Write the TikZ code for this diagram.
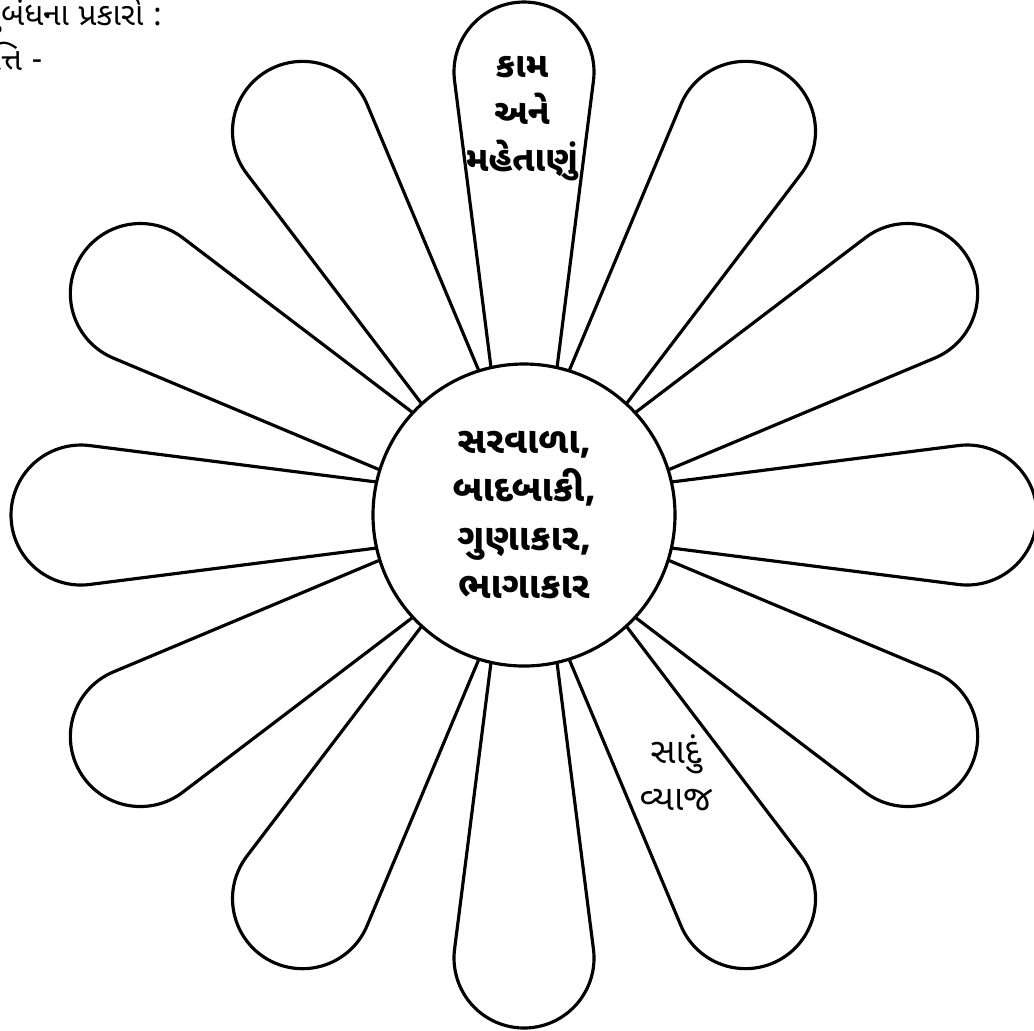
\documentclass[tikz,border=0pt]{standalone}
\usepackage{fontspec}
\newfontfamily\guj[Script=Gujarati]{Noto Sans Gujarati UI}
\usetikzlibrary{positioning}
\tikzset{
  petal/.style={draw, line width=0.9pt, line join=round},
  hub/.style={circle, draw, fill=white, line width=0.9pt, minimum size=30.2mm,
    inner sep=0pt, align=center, font=\guj\bfseries\fontsize{10.5}{13.7}\selectfont},
  lab/.style={align=center, font=\guj\bfseries\fontsize{10}{13.4}\selectfont},
  head/.style={anchor=east, inner sep=0pt, font=\guj\fontsize{9}{12}\selectfont},
}

\begin{document}
\begin{tikzpicture}

\path[use as bounding box, clip] (0,0) rectangle (10.34,-10.30);

% twelve petals round the hub
\foreach \a in {0,30,...,330}
  \draw[petal, shift={(5.24,-5.15)}, rotate=\a]
    (1.4735,0.33) -- (4.3418,0.6944)
    arc[start angle=97.24, end angle=-97.24, radius=0.70] -- (1.4735,-0.33);

\node[hub] (hub) at (5.24,-5.15) {સરવાળા,\\બાદબાકી,\\ગુણાકાર,\\ભાગાકાર};
\node[lab] (kaam) at (5.22,-1.19) {કામ\\અને\\મહેતાણું};
\node[lab, font=\guj\fontsize{10}{13.4}\selectfont] (vyaj) at (6.76,-7.73) {સાદું\\વ્યાજ};

\node[head] (title) at (1.63,-0.16) {અનુબંધના પ્રકારો :};
\node[head] (task) at (0.43,-0.61) {પ્રવૃત્તિ -};

\end{tikzpicture}
\end{document}
